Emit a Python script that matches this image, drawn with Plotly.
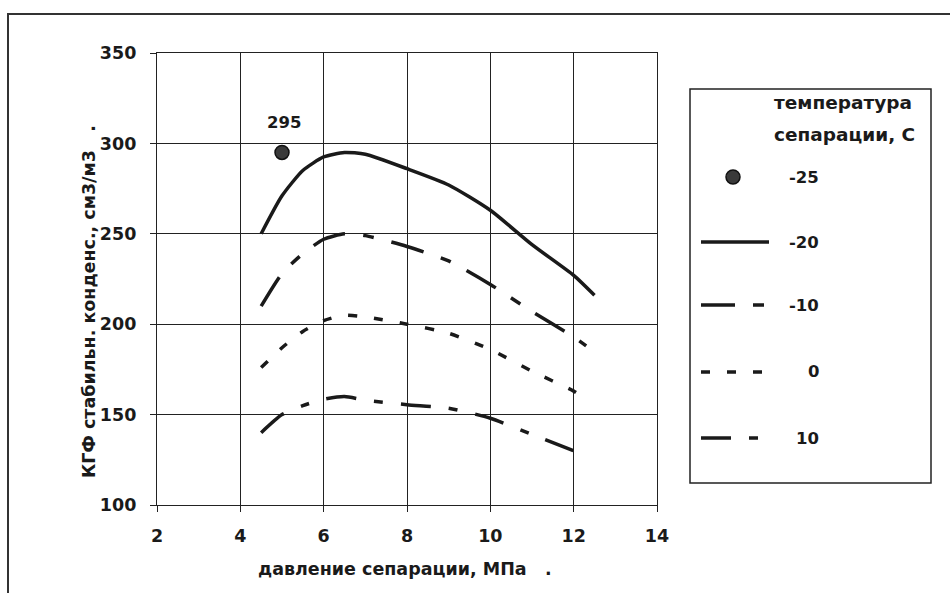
import plotly.graph_objects as go

# ---------------- data ----------------
pt_x = [5.0]
pt_y = [295]

x_m20 = [4.5, 5.0, 5.5, 6.0, 6.5, 7.0, 8.0, 9.0, 10.0, 11.0, 12.0, 12.5]
y_m20 = [250, 271, 285, 292.5, 295, 294, 286, 277, 263, 244, 227, 216]

x_m10 = [4.5, 5.0, 5.5, 6.0, 6.5, 7.0, 8.0, 9.0, 10.0, 11.0, 12.0, 12.3]
y_m10 = [210, 228, 239, 247, 250, 249, 243, 235, 222, 207, 193, 188]

x_0 = [4.5, 5.0, 5.5, 6.0, 6.5, 7.0, 8.0, 9.0, 10.0, 11.0, 12.0, 12.2]
y_0 = [176, 187, 196, 202, 205, 204, 200, 195, 186, 174, 163, 160]

x_10 = [4.5, 5.0, 5.5, 6.0, 6.5, 7.0, 8.0, 9.0, 10.0, 11.0, 12.0]
y_10 = [140, 150, 155, 158.5, 160, 158, 155.5, 153.5, 148, 139, 130]

legend_names = ["-25", "-20", "-10", "0", "10"]
x_ticks = [2, 4, 6, 8, 10, 12, 14]
y_ticks = [100, 150, 200, 250, 300, 350]

# ---------------- styling ----------------
W, H = 950, 593
L, R, T, B = 157, 657, 53, 505
FONT = "DejaVu Sans, Liberation Sans, Arial, sans-serif"
INK = "#1a1a1a"
DASH_M10 = "34px,18px,11px,18px"
DASH_0 = "9px,17px"
DASH_10 = "30px,18px,9px,18px"


def px(xp):
    return (xp - L) / (R - L)


def py(yp):
    return (B - yp) / (B - T)


fig = go.Figure()

fig.add_trace(go.Scatter(x=x_m20, y=y_m20, mode="lines", name="-20",
                         line=dict(color=INK, width=3.5, shape="spline", smoothing=0.6)))
fig.add_trace(go.Scatter(x=x_m10, y=y_m10, mode="lines", name="-10",
                         line=dict(color=INK, width=3.5, dash=DASH_M10, shape="spline", smoothing=0.6)))
fig.add_trace(go.Scatter(x=x_0, y=y_0, mode="lines", name="0",
                         line=dict(color=INK, width=3.5, dash=DASH_0, shape="spline", smoothing=0.6)))
fig.add_trace(go.Scatter(x=x_10, y=y_10, mode="lines", name="10",
                         line=dict(color=INK, width=3.5, dash=DASH_10, shape="spline", smoothing=0.6)))
fig.add_trace(go.Scatter(x=pt_x, y=pt_y, mode="markers", name="-25",
                         marker=dict(size=14, color="#3a3a3a", line=dict(color="#111", width=1.5))))

annotations = []
# data label
annotations.append(dict(x=pt_x[0], y=pt_y[0], xref="x", yref="y", text=str(pt_y[0]),
                        showarrow=False, yshift=30, xshift=2,
                        font=dict(family=FONT, size=16.5, color=INK, weight="bold")))
# axis titles
annotations.append(dict(x=px(89), y=py(302), xref="paper", yref="paper",
                        text="КГФ стабильн. конденс., см3/м3\u00a0\u00a0\u00a0.",
                        textangle=-90, showarrow=False, xanchor="center", yanchor="middle",
                        font=dict(family=FONT, size=17.5, color=INK, weight="bold")))
annotations.append(dict(x=px(405), y=py(569), xref="paper", yref="paper",
                        text="давление сепарации, МПа\u00a0\u00a0\u00a0.",
                        showarrow=False, xanchor="center", yanchor="middle",
                        font=dict(family=FONT, size=17.5, color=INK, weight="bold")))

shapes = []
# outer frame
shapes.append(dict(type="rect", xref="paper", yref="paper",
                   x0=px(8), x1=px(960), y0=py(600), y1=py(14),
                   line=dict(color="#333", width=2)))
# legend box
shapes.append(dict(type="rect", xref="paper", yref="paper",
                   x0=px(690), x1=px(931), y0=py(483), y1=py(89),
                   line=dict(color="#222", width=1.5), fillcolor="white", layer="below"))
annotations.append(dict(x=px(772), y=py(102), xref="paper", yref="paper", text="температура",
                        showarrow=False, xanchor="left", yanchor="middle",
                        font=dict(family=FONT, size=18.5, color=INK, weight="bold")))
annotations.append(dict(x=px(772), y=py(135), xref="paper", yref="paper", text="сепарации, С",
                        showarrow=False, xanchor="left", yanchor="middle",
                        font=dict(family=FONT, size=18.5, color=INK, weight="bold")))

leg_y = [177, 242, 305, 372, 438]
leg_dash = [None, "solid", DASH_M10, DASH_0, DASH_10]
for name, yy, dsh in zip(legend_names, leg_y, leg_dash):
    if dsh is None:
        shapes.append(dict(type="circle", xref="paper", yref="paper",
                           x0=px(733 - 7), x1=px(733 + 7), y0=py(yy + 7), y1=py(yy - 7),
                           fillcolor="#3a3a3a", line=dict(color="#111", width=1.5)))
    else:
        shapes.append(dict(type="line", xref="paper", yref="paper",
                           x0=px(701), x1=px(769), y0=py(yy), y1=py(yy),
                           line=dict(color=INK, width=3.5, dash=dsh)))
    annotations.append(dict(x=px(821), y=py(yy), xref="paper", yref="paper", text=name,
                            showarrow=False, xanchor="right", yanchor="middle",
                            font=dict(family=FONT, size=16.5, color=INK, weight="bold")))

axis_common = dict(showgrid=True, gridcolor="#222", gridwidth=1, showline=True,
                   linecolor="#222", linewidth=1.2, mirror=True, ticks="outside",
                   ticklen=6, tickcolor="#222", zeroline=False,
                   tickfont=dict(family=FONT, size=17.5, color=INK, weight="bold"))

fig.update_xaxes(range=[2, 14], tickvals=x_ticks, ticktext=[str(v) for v in x_ticks],
                 ticklabelstandoff=9, **axis_common)
fig.update_yaxes(range=[100, 350], tickvals=y_ticks, ticktext=[str(v) for v in y_ticks],
                 ticklabelstandoff=10, **axis_common)

fig.update_layout(width=W, height=H, showlegend=False,
                  margin=dict(l=L, r=W - R, t=T, b=H - B, autoexpand=False),
                  paper_bgcolor="white", plot_bgcolor="white",
                  shapes=shapes, annotations=annotations)

fig.write_html("out.html")
